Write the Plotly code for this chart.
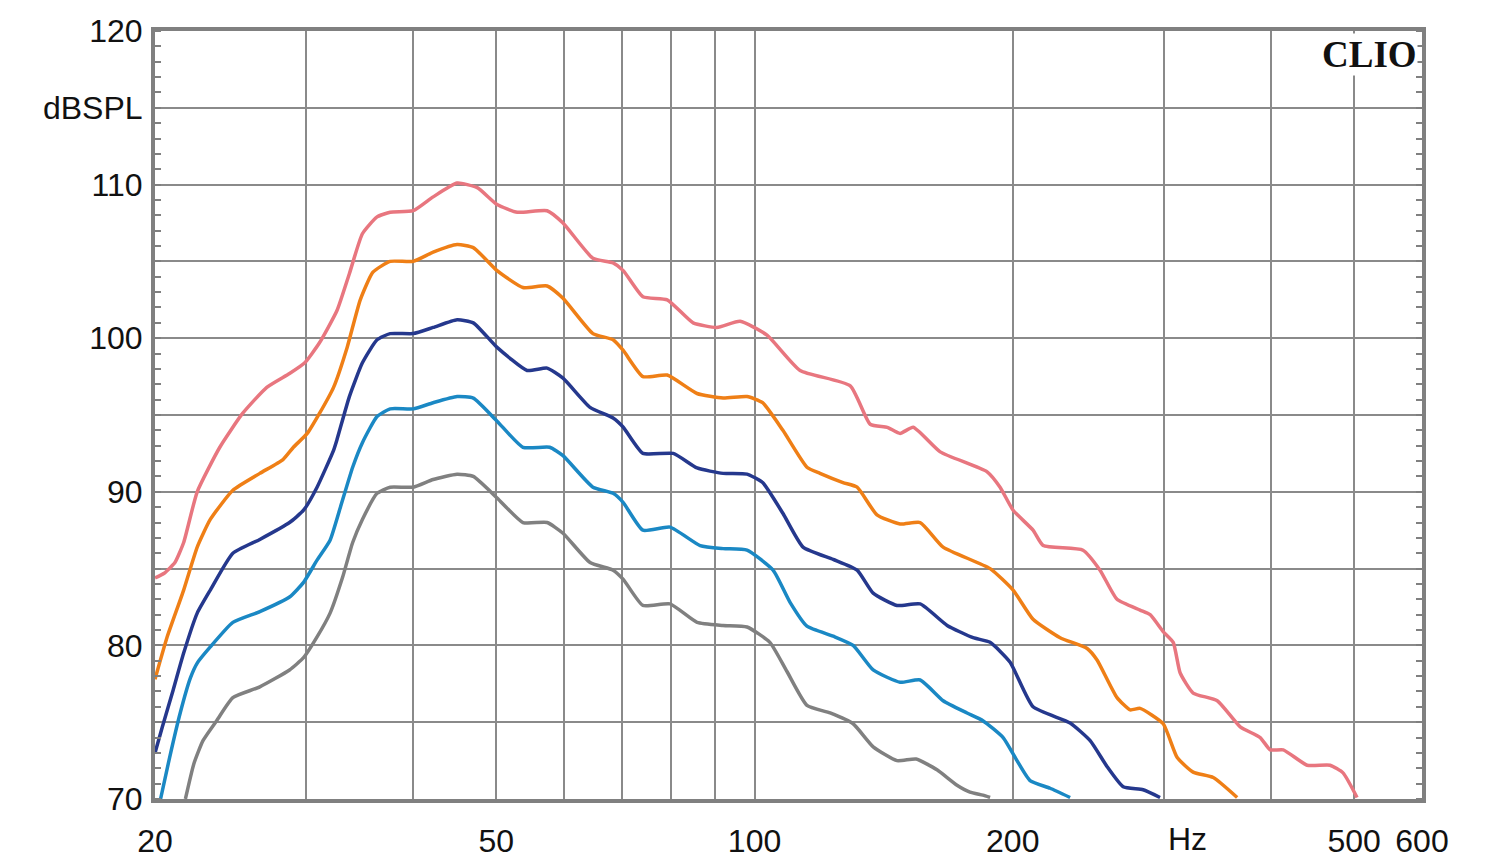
import plotly.graph_objects as go
import math

# ---------------- data ----------------
pink_f = [20.0, 20.5, 21.1, 21.6, 22.4, 23.8, 25.3, 27.0, 28.7, 29.9, 31.1, 32.6, 33.7, 34.9, 36.3,
          37.6, 40.0, 42.2, 45.0, 47.5, 50.1, 52.9, 57.3, 59.8, 64.8, 68.4, 70.3, 74.1, 79.1, 84.8,
          90.4, 96.2, 103.4, 113.0, 129.3, 136.4, 142.8, 147.8, 153.1, 164.6, 186.7, 193.3, 200.2,
          211.2, 217.0, 241.5, 252.8, 264.6, 281.5, 289.2, 299.5, 307.7, 313.5, 324.6, 346.3, 368.3,
          388.6, 399.2, 413.4, 440.8, 468.8, 485.4, 504.0]
pink_db = [84.4, 84.7, 85.4, 86.7, 90.0, 92.9, 95.1, 96.8, 97.7, 98.4, 99.7, 101.8, 104.2, 106.8, 107.9,
           108.2, 108.3, 109.2, 110.1, 109.8, 108.7, 108.2, 108.3, 107.5, 105.2, 104.9, 104.4, 102.7, 102.5, 101.0,
           100.7, 101.1, 100.2, 97.9, 96.9, 94.4, 94.2, 93.8, 94.2, 92.6, 91.3, 90.3, 88.8,
           87.5, 86.5, 86.2, 84.9, 83.0, 82.3, 82.0, 80.9, 80.2, 78.2, 76.9, 76.4, 74.7,
           74.0, 73.2, 73.2, 72.2, 72.2, 71.7, 70.1]

orange_f = [20.0, 20.65, 21.6, 22.4, 23.2, 24.65, 26.5, 28.2, 29.0, 30.1, 31.1, 32.3, 33.5, 34.7, 35.9,
            37.6, 40.0, 42.2, 45.0, 47.0, 50.1, 53.7, 57.3, 59.8, 64.8, 68.4, 70.3, 74.1, 79.1, 85.7,
            91.9, 98.0, 102.2, 107.9, 115.1, 119.2, 126.8, 131.7, 138.9, 147.8, 156.0, 165.9, 188.2,
            200.2, 211.2, 227.1, 244.2, 250.8, 264.6, 274.1, 281.5, 299.5, 311.0, 324.6, 342.6, 365.3]
orange_db = [77.8, 80.5, 83.6, 86.4, 88.2, 90.1, 91.2, 92.1, 92.9, 93.8, 95.1, 96.8, 99.4, 102.5, 104.3,
             105.0, 105.0, 105.6, 106.1, 105.9, 104.4, 103.3, 103.4, 102.6, 100.3, 99.9, 99.2, 97.5, 97.6, 96.4,
             96.1, 96.2, 95.8, 94.0, 91.6, 91.2, 90.6, 90.3, 88.5, 87.9, 88.0, 86.4, 85.0,
             83.6, 81.7, 80.5, 79.8, 79.05, 76.6, 75.8, 75.9, 74.9, 72.7, 71.75, 71.4, 70.1]

navy_f = [20.0, 20.4, 21.0, 21.6, 22.4, 23.2, 24.65, 26.5, 28.7, 29.8, 30.9, 32.3, 32.6, 33.7, 34.9,
          36.3, 37.6, 40.0, 42.2, 45.0, 47.0, 50.1, 54.3, 57.3, 59.8, 64.3, 68.4, 70.3, 74.1, 80.4,
          85.7, 91.9, 98.0, 102.2, 107.9, 113.9, 123.5, 131.7, 137.5, 146.6, 156.0, 167.7, 179.8,
          188.2, 198.6, 211.2, 233.3, 246.2, 257.7, 269.0, 283.8, 297.0]
navy_db = [73.0, 74.7, 77.1, 79.5, 82.1, 83.6, 86.0, 86.9, 88.0, 88.8, 90.3, 92.7, 93.4, 96.2, 98.4,
           99.9, 100.3, 100.3, 100.7, 101.2, 101.0, 99.4, 97.9, 98.05, 97.4, 95.5, 94.8, 94.2, 92.5, 92.5,
           91.55, 91.2, 91.15, 90.6, 88.6, 86.4, 85.6, 84.9, 83.4, 82.6, 82.7, 81.3, 80.5,
           80.2, 78.9, 76.0, 74.95, 73.8, 72.1, 70.8, 70.6, 70.1]

blue_f = [20.3, 20.8, 21.4, 22.0, 22.4, 23.2, 24.65, 26.5, 28.7, 29.8, 30.9, 32.0, 32.9, 34.0, 34.9,
          36.3, 37.6, 40.0, 42.2, 45.0, 47.0, 50.1, 53.7, 57.7, 59.8, 64.8, 68.4, 70.3, 74.1, 79.7,
          86.4, 91.9, 98.0, 105.1, 110.0, 115.1, 123.5, 130.3, 137.5, 147.8, 156.0, 165.9, 176.9,
          184.6, 194.9, 202.3, 209.5, 221.1, 233.3]
blue_db = [70.0, 72.7, 75.6, 77.9, 78.85, 79.9, 81.5, 82.2, 83.15, 84.1, 85.55, 86.85, 89.0, 91.6, 93.2,
           94.9, 95.4, 95.4, 95.8, 96.2, 96.1, 94.6, 92.9, 92.9, 92.35, 90.3, 89.9, 89.3, 87.5, 87.7,
           86.5, 86.3, 86.2, 84.9, 82.8, 81.25, 80.6, 80.0, 78.4, 77.6, 77.75, 76.4, 75.6,
           75.1, 74.0, 72.5, 71.2, 70.7, 70.1]

gray_f = [21.7, 22.2, 22.75, 23.6, 24.65, 26.5, 28.7, 29.8, 30.9, 32.0, 33.1, 34.0, 34.9, 36.3, 37.6,
          40.0, 42.2, 45.0, 47.0, 50.1, 53.7, 57.3, 59.8, 64.3, 68.4, 70.3, 74.1, 79.7, 85.7, 91.9,
          98.0, 104.2, 109.1, 115.1, 122.5, 130.3, 137.5, 146.6, 154.3, 163.2, 172.2, 178.3, 184.6, 188.2]
gray_db = [70.0, 72.3, 73.8, 75.1, 76.6, 77.3, 78.4, 79.2, 80.55, 82.1, 84.45, 86.7, 88.2, 89.9, 90.3,
           90.3, 90.8, 91.15, 91.0, 89.6, 88.0, 88.0, 87.3, 85.4, 84.9, 84.3, 82.6, 82.7, 81.5, 81.3,
           81.2, 80.2, 78.3, 76.1, 75.6, 74.9, 73.4, 72.5, 72.6, 71.9, 70.9, 70.45, 70.25, 70.1]

x_tickvals = [20, 30, 40, 50, 60, 70, 80, 90, 100, 200, 300, 400, 500, 600]
x_ticktext = ['20', '', '', '50', '', '', '', '', '100', '200', '', '', '500', '600']
y_tickvals = [70, 75, 80, 85, 90, 95, 100, 105, 110, 115, 120]
y_ticktext = ['70', '', '80', '', '90', '', '100', '', '110', 'dBSPL', '120']

series = [
    (pink_f, pink_db, '#e8767f'),
    (orange_f, orange_db, '#ef7f16'),
    (navy_f, navy_db, '#25388d'),
    (blue_f, blue_db, '#1a88c4'),
    (gray_f, gray_db, '#808080'),
]

fig = go.Figure()
for f, db, col in series:
    fig.add_trace(go.Scatter(x=f, y=db, mode='lines',
                             line=dict(color=col, width=3.5, shape='spline', smoothing=0.5),
                             hoverinfo='skip', showlegend=False))

grid_col = '#8a8a8a'
frame_col = '#808080'
tick_font = dict(family='Liberation Sans, Arial, sans-serif', size=32, color='#111111')

fig.update_xaxes(type='log', range=[math.log10(20), math.log10(600)],
                 tickmode='array', tickvals=x_tickvals, ticktext=x_ticktext,
                 showgrid=True, gridcolor=grid_col, gridwidth=2,
                 showline=True, linecolor=frame_col, linewidth=4, mirror=True,
                 ticks='', ticklabelstandoff=11, tickfont=tick_font, zeroline=False,
                 automargin=False)
fig.update_yaxes(range=[70, 120], tickmode='array', tickvals=y_tickvals, ticktext=y_ticktext,
                 showgrid=True, gridcolor=grid_col, gridwidth=2,
                 showline=True, linecolor=frame_col, linewidth=4, mirror='ticks',
                 ticks='', ticklabelstandoff=2, tickfont=tick_font, zeroline=False,
                 automargin=False,
                 minor=dict(tickmode='linear', tick0=70, dtick=1, ticks='inside', ticklen=6,
                            tickwidth=2, tickcolor=frame_col, showgrid=False))

fig.add_annotation(text='<b>CLIO</b>', xref='paper', yref='paper', x=0.997, y=0.997,
                   xanchor='right', yanchor='top', showarrow=False, bgcolor='white',
                   borderpad=0,
                   font=dict(family='Liberation Serif, Times New Roman, serif', size=37, color='#111111'))
fig.add_annotation(text='Hz', xref='paper', yref='paper', x=(1187 - 155) / 1267, y=0,
                   xanchor='center', yanchor='top', yshift=-20, showarrow=False,
                   font=tick_font)

fig.update_layout(width=1500, height=864, margin=dict(l=155, r=78, t=31, b=65),
                  paper_bgcolor='white', plot_bgcolor='white')

fig.write_html('out.html')
